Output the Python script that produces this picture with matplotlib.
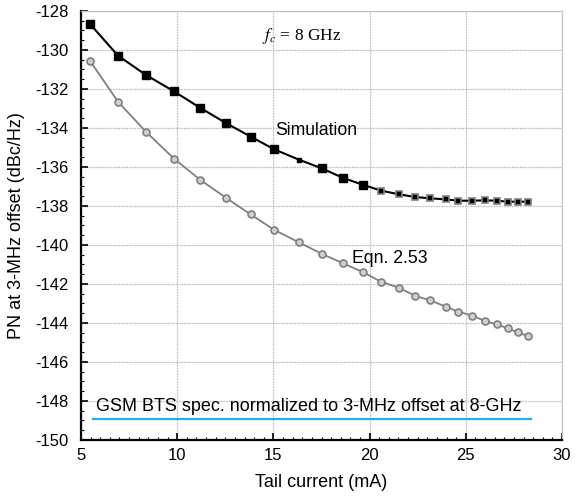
import numpy as np
import matplotlib
matplotlib.use("Agg")
import matplotlib.pyplot as plt
from matplotlib.ticker import MultipleLocator

plt.rcParams['font.family'] = ['Liberation Sans', 'DejaVu Sans']
plt.rcParams['axes.unicode_minus'] = False

## Tail current (mA), shared by both curves
current = [5.47, 6.92, 8.37, 9.83, 11.18, 12.52, 13.81, 15.05, 16.31, 17.51,
           18.62, 19.67, 20.58, 21.51, 22.36, 23.15, 23.95, 24.61, 25.33, 26.0,
           26.6, 27.17, 27.7, 28.22]
## Simulated phase noise (dBc/Hz)
pn_sim = [-128.67, -130.29, -131.28, -132.12, -132.96, -133.74, -134.44, -135.10,
          -135.62, -136.07, -136.56, -136.92, -137.21, -137.40, -137.54, -137.61,
          -137.66, -137.73, -137.73, -137.71, -137.73, -137.78, -137.78, -137.78]
## Eqn. 2.53 phase noise (dBc/Hz)
pn_eqn = [-130.56, -132.65, -134.19, -135.57, -136.65, -137.57, -138.43, -139.23,
          -139.86, -140.45, -140.94, -141.40, -141.88, -142.19, -142.60, -142.84,
          -143.16, -143.42, -143.62, -143.90, -144.07, -144.27, -144.48, -144.67]
## GSM spec line
gsm_x = [5.64, 28.38]
gsm_y = [-148.92, -148.92]

fig = plt.figure(figsize=(5.77, 4.98), dpi=100)
ax = fig.add_axes([0.1404, 0.1165, 0.8336, 0.8615])

# simulation: black squares, one small one, then small gray-edged squares
big = [0, 1, 2, 3, 4, 5, 6, 7, 9, 10, 11]
ax.plot(current, pn_sim, '-', color='black', lw=1.5, zorder=3)
ax.plot([current[i] for i in big], [pn_sim[i] for i in big], 's',
        color='black', ms=5.5, zorder=4)
ax.plot(current[8:9], pn_sim[8:9], 's', color='black', ms=3.5, zorder=4)
ax.plot(current[12:], pn_sim[12:], 's', mfc='black', mec='#808080', mew=1.2,
        ms=5, zorder=4)

ax.plot(current, pn_eqn, '-o', color='#808080', lw=1.3, ms=5,
        mfc='#d0d0d0', mec='#808080', mew=1.2, zorder=3)

ax.plot(gsm_x, gsm_y, '-', color='#20b0e8', lw=1.6, zorder=3)

ax.text(5.78, -148.3, 'GSM BTS spec. normalized to 3-MHz offset at 8-GHz',
        fontsize=13, va='center', ha='left')
ax.text(15.1, -134.15, 'Simulation', fontsize=12.7, va='center', ha='left')
ax.text(19.1, -140.68, 'Eqn. 2.53', fontsize=12.7, va='center', ha='left')
ax.text(14.4, -129.3, r'$f_c$ = 8 GHz', fontsize=12.5, va='center', ha='left',
        family='Liberation Serif', math_fontfamily='stix')

ax.set_xlim(5, 30)
ax.set_ylim(-150, -128)
ax.xaxis.set_major_locator(MultipleLocator(5))
ax.xaxis.set_minor_locator(MultipleLocator(0.5))
ax.yaxis.set_major_locator(MultipleLocator(2))
ax.yaxis.set_minor_locator(MultipleLocator(0.5))
ax.tick_params(which='both', direction='in', labelsize=12)
ax.tick_params(which='major', length=5, width=1.2)
ax.tick_params(which='minor', length=2.5, width=0.8)
ax.tick_params(axis='x', pad=6)
ax.tick_params(axis='y', pad=9)

ax.grid(True, which='major', color='#c4c4c4', lw=0.9, ls=(0, (1.5, 0.6)))
for s in ['left', 'bottom']:
    ax.spines[s].set_linewidth(1.6)
for s in ['top', 'right']:
    ax.spines[s].set_color('#c4c4c4')
    ax.spines[s].set_linewidth(0.9)

ax.set_xlabel('Tail current (mA)', fontsize=13, labelpad=8)
ax.set_ylabel('PN at 3-MHz offset (dBc/Hz)', fontsize=13, labelpad=7)

fig.savefig('out.png', dpi=100)
